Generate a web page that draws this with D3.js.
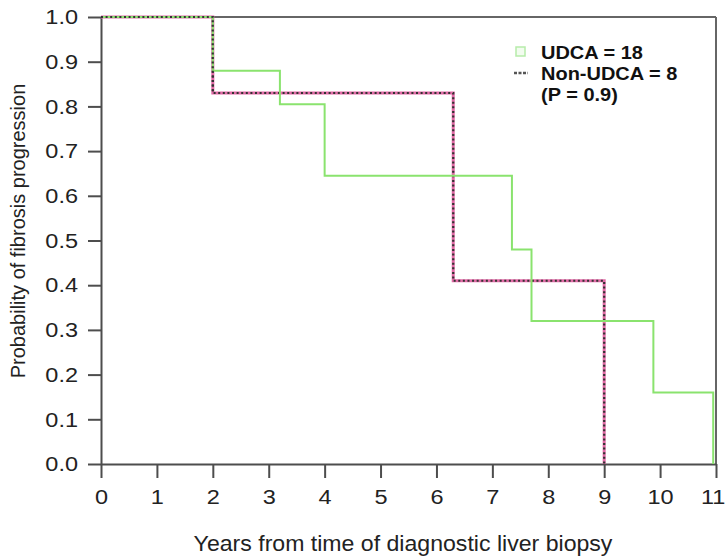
<html>
<head>
  <style>
    body { margin: 0; background: #fff; }
    text { font-family: 'Liberation Sans', Arial, sans-serif; }
    .legend { font-size: 18.5px; font-weight: bold; fill: #111; }
  </style>
</head>
<body>
  <div id="chart"></div>
  <script src="https://cdnjs.cloudflare.com/ajax/libs/d3/7.8.5/d3.min.js"></script>
  <script>
  // step curves: [time, probability]
  const udcaSteps = [[0, 1.0], [2, 0.88], [3.2, 0.805], [4, 0.645], [7.35, 0.48], [7.7, 0.32], [9.88, 0.16], [10.95, 0.0]];
  const nonUdcaSteps = [[0, 1.0], [2, 0.83], [6.3, 0.41], [9, 0.0]];
  const xTicks = [0, 1, 2, 3, 4, 5, 6, 7, 8, 9, 10, 11];
  const yTicks = [0, 0.1, 0.2, 0.3, 0.4, 0.5, 0.6, 0.7, 0.8, 0.9, 1.0];
  const legendLabels = ["UDCA = 18", "Non-UDCA = 8", "(P = 0.9)"];

  const W = 726, H = 557;
  const stretch = 1.12; // the original figure's tick text is a bit wide

  const svg = d3.select("#chart").append("svg")
    .attr("width", W).attr("height", H);

  const x = d3.scaleLinear().domain([0, 11]).range([101, 716]);
  const y = d3.scaleLinear().domain([0, 1]).range([464, 17]);

  // frame top and right
  svg.append("line").attr("x1", x(0)).attr("x2", x(11)).attr("y1", y(1)).attr("y2", y(1))
    .attr("stroke", "#666").attr("stroke-width", 2);
  svg.append("line").attr("x1", x(11)).attr("x2", x(11)).attr("y1", y(1)).attr("y2", y(0))
    .attr("stroke", "#666").attr("stroke-width", 2);

  const xAxis = svg.append("g")
    .attr("transform", `translate(0,${y(0)})`)
    .call(d3.axisBottom(x).tickValues(xTicks).tickSize(14).tickPadding(11).tickSizeOuter(0));
  const yAxis = svg.append("g")
    .attr("transform", `translate(${x(0)},0)`)
    .call(d3.axisLeft(y).tickValues(yTicks).tickFormat(d3.format(".1f")).tickSize(13).tickPadding(10).tickSizeOuter(0));

  [xAxis, yAxis].forEach(a => {
    a.attr("font-size", null).attr("font-family", null);
    a.select(".domain").attr("stroke", "#4d4d4d").attr("stroke-width", 2);
    a.selectAll(".tick line").attr("stroke", "#4d4d4d").attr("stroke-width", 2);
    a.selectAll(".tick text")
      .attr("fill", "#222")
      .style("font-size", "21px");
  });
  // widen the tick labels a little
  xAxis.selectAll(".tick text")
    .attr("x", d => d === 11 ? -3 : 0)
    .attr("transform", `scale(${stretch},1)`);
  yAxis.selectAll(".tick text")
    .attr("x", -23 / stretch)
    .attr("transform", `scale(${stretch},1)`);

  const line = d3.line().x(d => x(d[0])).y(d => y(d[1])).curve(d3.curveStepAfter);

  // Non-UDCA: pink line with dark dots
  svg.append("path").datum(nonUdcaSteps)
    .attr("d", line).attr("fill", "none")
    .attr("stroke", "#e26aa6").attr("stroke-width", 3);
  svg.append("path").datum(nonUdcaSteps)
    .attr("d", line).attr("fill", "none")
    .attr("stroke", "#333").attr("stroke-width", 2.2)
    .attr("stroke-dasharray", "2,2.6");

  // UDCA: light green solid
  svg.append("path").datum(udcaSteps)
    .attr("d", line).attr("fill", "none")
    .attr("stroke", "#8ae36e").attr("stroke-width", 2);

  // dots of the first Non-UDCA segment sit on top of the green
  svg.append("path").datum(nonUdcaSteps.slice(0, 2))
    .attr("d", line).attr("fill", "none")
    .attr("stroke", "#333").attr("stroke-width", 2)
    .attr("stroke-dasharray", "2,2.6");

  // legend
  const lg = svg.append("g");
  lg.append("rect").attr("x", 516).attr("y", 47).attr("width", 9).attr("height", 9)
    .attr("fill", "#f2fcef").attr("stroke", "#b6ecaa").attr("stroke-width", 1.5);
  lg.append("line").attr("x1", 514).attr("x2", 528).attr("y1", 73).attr("y2", 73)
    .attr("stroke", "#555").attr("stroke-width", 2.5).attr("stroke-dasharray", "3,1.5");
  lg.selectAll("text.legend").data(legendLabels).join("text")
    .attr("class", "legend")
    .attr("transform", (d, i) => `translate(541,${59 + i * 21}) scale(1.08,1)`)
    .text(d => d);

  // axis titles
  svg.append("text")
    .attr("transform", `translate(403,551) scale(1.05,1)`)
    .attr("text-anchor", "middle")
    .style("font-size", "22px").attr("fill", "#222")
    .text("Years from time of diagnostic liver biopsy");
  svg.append("text")
    .attr("transform", `translate(25,231) rotate(-90)`)
    .attr("text-anchor", "middle")
    .style("font-size", "20px").attr("fill", "#222")
    .text("Probability of fibrosis progression");
  </script>
</body>
</html>
